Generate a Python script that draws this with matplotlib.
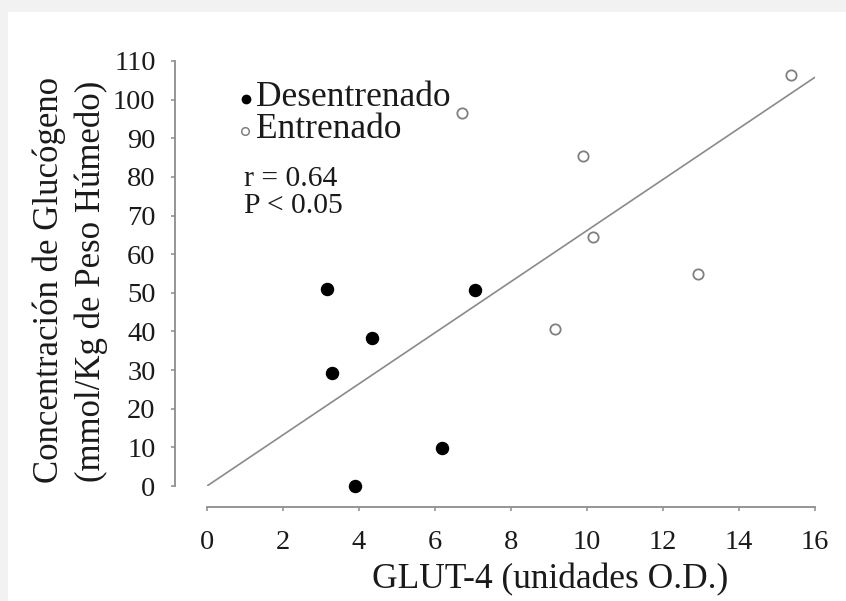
import matplotlib
matplotlib.use("Agg")
import matplotlib.pyplot as plt
from matplotlib.patches import Rectangle
from matplotlib.lines import Line2D

plt.rcParams['font.family'] = ['Liberation Serif', 'DejaVu Serif']

# Data
desentrenado_x = [3.15, 7.05, 4.35, 3.29, 6.18, 3.89]
desentrenado_y = [50.9, 50.7, 38.4, 29.3, 9.8, 0.1]
entrenado_x = [6.70, 9.90, 10.17, 9.17, 12.92, 15.37]
entrenado_y = [96.5, 85.4, 64.5, 40.6, 54.9, 106.4]
fit_x = [0, 16]
fit_y = [0, 105.8]
xticks = [0, 2, 4, 6, 8, 10, 12, 14, 16]
yticks = [0, 10, 20, 30, 40, 50, 60, 70, 80, 90, 100, 110]

W, H = 846, 601
fig = plt.figure(figsize=(W / 100, H / 100), dpi=100)
fig.patch.set_facecolor('#f2f2f2')
fig.patches.append(Rectangle((8 / W, 0), 1 - 8 / W, 1 - 12 / H, transform=fig.transFigure,
                             facecolor='white', edgecolor='none', zorder=-10))

x0, x1 = 207, 815
ytop, ybot = 61, 486
ax = fig.add_axes([x0 / W, 1 - ybot / H, (x1 - x0) / W, (ybot - ytop) / H])
ax.set_facecolor('none')
ax.set_xlim(0, 16)
ax.set_ylim(0, 110)

for s in ['top', 'right']:
    ax.spines[s].set_visible(False)
axcol = '#8c8c8c'
ax.spines['left'].set_position(('outward', 32 * 0.72))
ax.spines['bottom'].set_position(('outward', 21 * 0.72))
ax.spines['left'].set_color(axcol)
ax.spines['bottom'].set_color(axcol)
ax.spines['left'].set_linewidth(1.3)
ax.spines['bottom'].set_linewidth(1.3)

ax.set_xticks(xticks)
ax.set_yticks(yticks)
ax.tick_params(axis='both', colors=axcol, labelcolor='#1a1a1a', labelsize=20.5,
               length=3, width=1.1)
ax.tick_params(axis='y', pad=11)
ax.tick_params(axis='x', pad=13.5)

ax.plot(fit_x, fit_y, color='#8a8a8a', lw=1.2, zorder=1)
ax.scatter(desentrenado_x, desentrenado_y, s=75, color='black', zorder=3, clip_on=False)
ax.scatter(entrenado_x, entrenado_y, s=55, facecolor='white', edgecolor='#808080',
           linewidth=1.3, zorder=3, clip_on=False)

# Legend (manual)
def px(x, y):
    return (x / W, 1 - y / H)

fig.add_artist(Line2D([246 / W], [1 - 99 / H], marker='o', markersize=6, color='black',
                      transform=fig.transFigure))
fig.add_artist(Line2D([245 / W], [1 - 131 / H], marker='o', markersize=5.5, markerfacecolor='white',
                      markeredgecolor='#808080', markeredgewidth=1.1, transform=fig.transFigure))
fig.text(*px(256, 97), 'Desentrenado', fontsize=25.5, va='center', ha='left', color='#1a1a1a')
fig.text(*px(256, 129), 'Entrenado', fontsize=25.5, va='center', ha='left', color='#1a1a1a')
fig.text(*px(244, 179), 'r = 0.64', fontsize=21.3, va='center', ha='left', color='#1a1a1a')
fig.text(*px(244, 206), 'P < 0.05', fontsize=21.3, va='center', ha='left', color='#1a1a1a')

fig.text(*px(550, 580), 'GLUT-4 (unidades O.D.)', fontsize=25.5, va='center', ha='center',
         color='#1a1a1a')
fig.text(*px(49, 280), 'Concentración de Glucógeno', fontsize=25, va='center', ha='center',
         rotation=90, color='#1a1a1a')
fig.text(*px(91, 281), '(mmol/Kg de Peso Húmedo)', fontsize=25, va='center', ha='center',
         rotation=90, color='#1a1a1a')

fig.savefig('out.png', dpi=100, facecolor=fig.get_facecolor())
